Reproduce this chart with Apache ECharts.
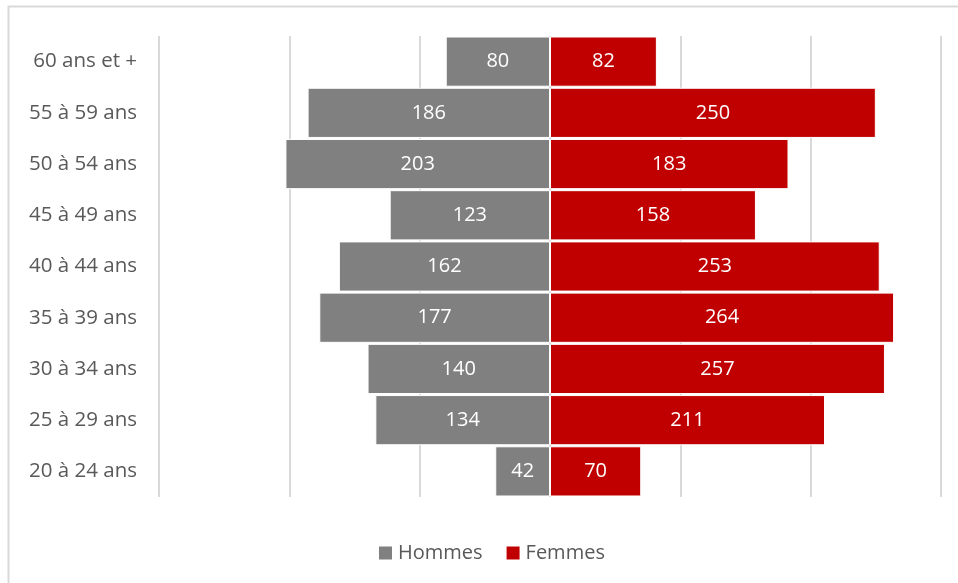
<!DOCTYPE html>
<html><head><meta charset="utf-8">
<script src="https://cdn.jsdelivr.net/npm/echarts@6/dist/echarts.min.js"></script>
<style>html,body{margin:0;padding:0;background:#fff}#c{width:958px;height:583px}</style>
</head><body><div id="c"></div>
<script>
const categories = ['60 ans et +','55 à 59 ans','50 à 54 ans','45 à 49 ans','40 à 44 ans','35 à 39 ans','30 à 34 ans','25 à 29 ans','20 à 24 ans'];
const hommes = [80,186,203,123,162,177,140,134,42];
const femmes = [82,250,183,158,253,264,257,211,70];
const FONT = '"Open Sans", sans-serif';
const chart = echarts.init(document.getElementById('c'));
chart.setOption({
  animation:false,
  graphic:[{type:'rect',shape:{x:8.5,y:6.5,width:960,height:600},style:{fill:'none',stroke:'#d9d9d9',lineWidth:2},silent:true}],
  grid:{left:159,right:17,top:36,bottom:86},
  xAxis:{type:'value',min:-300,max:300,interval:100,
    axisLabel:{show:false},axisLine:{show:false},axisTick:{show:false},
    splitLine:{lineStyle:{color:'#d9d9d9',width:2}}},
  yAxis:{type:'category',data:categories,inverse:true,
    axisLine:{show:false},axisTick:{show:false},
    axisLabel:{color:'#595959',fontSize:20.5,fontFamily:FONT,margin:22}},
  legend:{top:538,left:372,itemWidth:15,itemHeight:15,itemGap:22,icon:'rect',
    textStyle:{color:'#595959',fontSize:20,fontFamily:FONT}},
  series:[
    {name:'Hommes',type:'bar',data:hommes.map(v=>-v),barGap:'-100%',barCategoryGap:'2%',
     itemStyle:{color:'#808080',borderColor:'#fff',borderWidth:1},
     label:{show:true,position:'inside',color:'#fff',fontSize:20,fontFamily:FONT,formatter:p=>Math.abs(p.value)}},
    {name:'Femmes',type:'bar',data:femmes,barCategoryGap:'2%',
     itemStyle:{color:'#C00000',borderColor:'#fff',borderWidth:1},
     label:{show:true,position:'inside',color:'#fff',fontSize:20,fontFamily:FONT}}
  ]
});
</script></body></html>
